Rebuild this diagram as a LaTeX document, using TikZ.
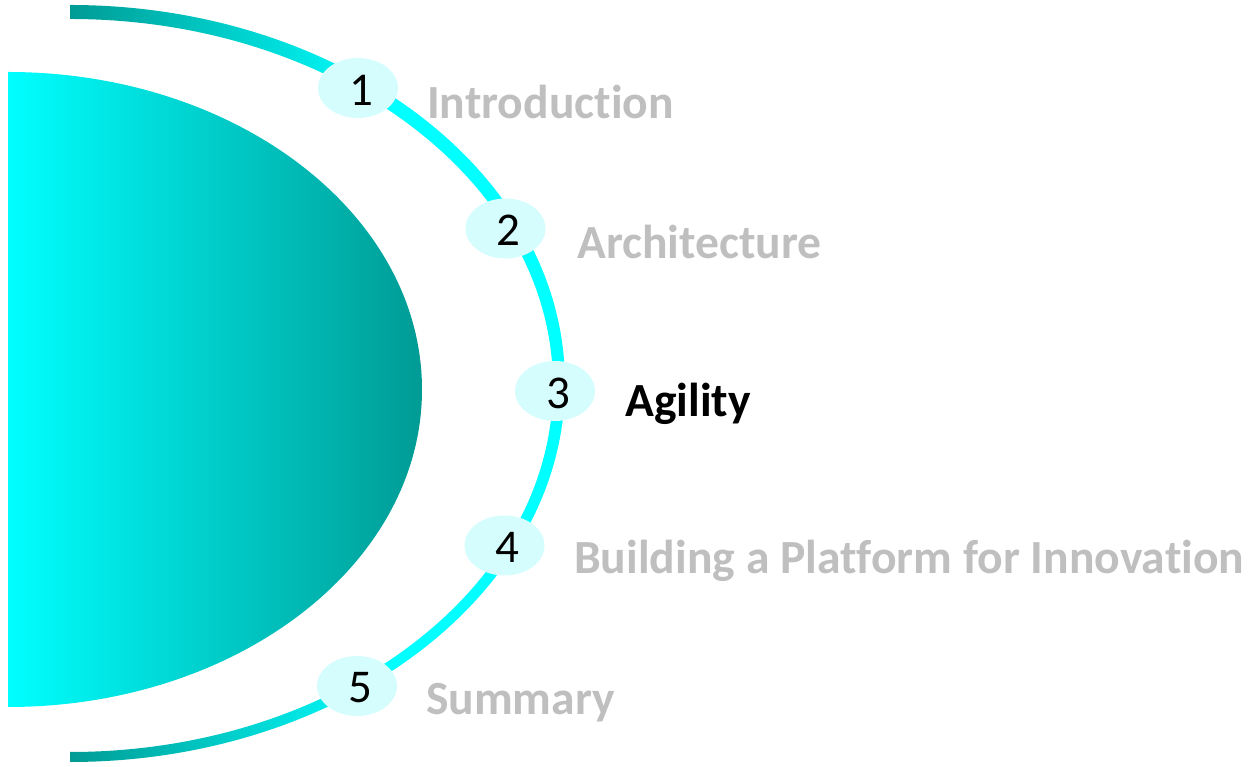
\documentclass[tikz,border=0pt]{standalone}
\usepackage{fontspec}
\setmainfont{Carlito}[RawFeature={-liga;-clig;-dlig}]
\usetikzlibrary{shapes.geometric}
\definecolor{tealdark}{RGB}{0,155,148}
\definecolor{cyanfull}{RGB}{0,255,255}
\definecolor{bubble}{RGB}{214,253,253}
\definecolor{labelgray}{RGB}{191,191,191}
\tikzset{
  numbub/.style={ellipse, fill=bubble, minimum width=80pt, minimum height=60pt, inner sep=0pt},
  numtext/.style={inner sep=0pt, font=\fontsize{47}{50}\selectfont, text=black},
  itemlabel/.style={anchor=base west, inner sep=0pt, font=\bfseries\fontsize{47.6}{52}\selectfont, text=labelgray},
  activelabel/.style={itemlabel, text=black}
}
\begin{document}
\begin{tikzpicture}[x=1pt,y=1pt]
\useasboundingbox (0,0) rectangle (1253,767);
% half ellipse with gradient
\shade[left color=cyanfull, right color=tealdark]
  (8,695) arc[start angle=90, end angle=-90, x radius=414pt, y radius=317.5pt] -- cycle;
% thick arc with gradient
\begin{scope}
  \clip (70,762) arc[start angle=90, end angle=-90, x radius=495pt, y radius=378.5pt]
        -- (70,15) arc[start angle=-90, end angle=90, x radius=483pt, y radius=366.5pt] -- cycle;
  \shade[left color=tealdark, right color=cyanfull] (70,0) rectangle (381,767);
  \fill[cyanfull] (380,0) rectangle (620,767);
\end{scope}
% number bubbles
\node[numbub] (n1) at (358,679) {};
\node[numbub] (n2) at (505.5,538.5) {};
\node[numbub] (n3) at (555,376) {};
\node[numbub] (n4) at (504.5,221.5) {};
\node[numbub] (n5) at (357,81) {};
\node[numtext] (d1) at ([shift={(3,-2)}]n1.center) {1};
\node[numtext] (d2) at ([shift={(3,-2)}]n2.center) {2};
\node[numtext] (d3) at ([shift={(3,-2)}]n3.center) {3};
\node[numtext] (d4) at ([shift={(3,-2)}]n4.center) {4};
\node[numtext] (d5) at ([shift={(3,-2)}]n5.center) {5};
% labels
\node[itemlabel] (t1) at (427,648) {Introduction};
\node[itemlabel] (t2) at (577,508) {Architecture};
\node[activelabel] (t3) at (625,350) {Agility};
\node[itemlabel] (t4) at (574,193) {Building a Platform for Innovation};
\node[itemlabel] (t5) at (426,52) {Summary};
\end{tikzpicture}
\end{document}
